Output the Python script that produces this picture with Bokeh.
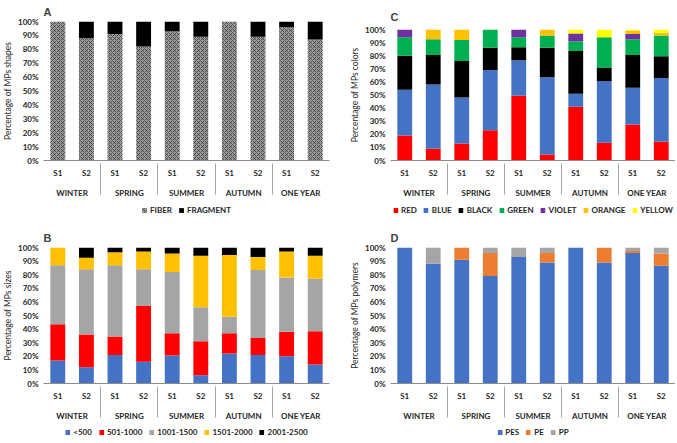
from bokeh.plotting import figure
from bokeh.layouts import column, row
from bokeh.models import (FactorRange, ColumnDataSource, Legend, LegendItem,
                          PrintfTickFormatter, SingleIntervalTicker)
from bokeh.embed import file_html
from bokeh.resources import INLINE

seasons = ["WINTER", "SPRING", "SUMMER", "AUTUMN", "ONE YEAR"]
sites = ["S1", "S2"]

# Panel A: shapes (%)
shape_labels = ["FIBER", "FRAGMENT"]
fiber = [100, 88, 91, 82, 93, 89, 100, 89, 96, 87]
fragment = [0, 12, 9, 18, 7, 11, 0, 11, 4, 13]

# Panel B: sizes (%)
size_labels = ["<500", "501-1000", "1001-1500", "1501-2000", "2001-2500"]
size_lt500 = [17, 12, 21, 16, 20.5, 6, 22, 21, 20, 14]
size_501_1000 = [26.5, 24, 13.5, 41, 16.5, 25, 15, 12.5, 18, 24.5]
size_1001_1500 = [43.5, 48, 52.5, 27, 45, 25, 12, 50, 40, 38.5]
size_1501_2000 = [13, 8.5, 9.5, 13, 13.5, 38, 45.5, 9.5, 19, 17]
size_2001_2500 = [0, 7.5, 3.5, 3, 4.5, 6, 5.5, 7, 3, 6]

# Panel C: colours (%)
color_labels = ["RED", "BLUE", "BLACK", "GREEN", "VIOLET", "ORANGE", "YELLOW"]
col_red = [19, 9, 13, 23, 49.5, 4.5, 41, 13.5, 27.5, 14.5]
col_blue = [35, 49, 35, 46, 27, 59, 10, 47, 28, 48.5]
col_black = [26, 22.5, 28, 17, 10, 22.5, 32.5, 10.5, 25, 16.5]
col_green = [14, 12, 16, 14, 7.5, 9.5, 7.5, 23, 12, 16]
col_violet = [6, 0, 0, 0, 6, 0, 6, 0, 4, 0]
col_orange = [0, 7.5, 8, 0, 0, 4.5, 0, 0, 2.5, 2]
col_yellow = [0, 0, 0, 0, 0, 0, 3, 6, 1, 2.5]

# Panel D: polymers (%)
poly_labels = ["PES", "PE", "PP"]
poly_pes = [100, 88, 91, 79, 93, 89, 100, 89, 96, 86.5]
poly_pe = [0, 0, 9, 17, 0, 7, 0, 11, 1.5, 9]
poly_pp = [0, 12, 0, 4, 7, 4, 0, 0, 2.5, 4.5]

FONT = "Lato"
TXT = "#262626"
factors = [(s, t) for s in seasons for t in sites]


def make_fig(letter, ylabel, width, height, borders, title_standoff):
    left, right, top, bottom = borders
    p = figure(x_range=FactorRange(factors=factors, range_padding=0, group_padding=0,
                                   subgroup_padding=0, factor_padding=0),
               y_range=(0, 100), width=width, height=height,
               output_backend="svg", toolbar_location=None,
               min_border_left=left, min_border_right=right,
               min_border_top=top, min_border_bottom=bottom)
    p.title.text = letter
    p.title.text_font = "Liberation Sans"
    p.title.text_font_style = "bold"
    p.title.text_font_size = "11px"
    p.title.standoff = title_standoff
    p.outline_line_color = None
    p.xgrid.grid_line_color = None
    p.ygrid.grid_line_color = None
    p.yaxis.ticker = SingleIntervalTicker(interval=10)
    p.yaxis.formatter = PrintfTickFormatter(format="%d%%")
    p.yaxis.axis_line_color = None
    p.yaxis.major_tick_line_color = None
    p.yaxis.minor_tick_line_color = None
    p.yaxis.major_tick_out = 0
    p.yaxis.minor_tick_out = 0
    p.yaxis.major_label_text_font = FONT
    p.yaxis.major_label_text_font_style = "bold"
    p.yaxis.major_label_text_font_size = "8px"
    p.yaxis.major_label_text_color = TXT
    p.yaxis.major_label_standoff = 5
    p.yaxis.axis_label = ylabel
    p.yaxis.axis_label_text_font = FONT
    p.yaxis.axis_label_text_font_style = "normal"
    p.yaxis.axis_label_text_font_size = "8.5px"
    p.yaxis.axis_label_text_color = TXT
    p.yaxis.axis_label_standoff = 2
    xa = p.xaxis[0]
    xa.axis_line_color = "#8c8c8c"
    xa.major_tick_line_color = None
    xa.major_tick_out = 0
    xa.major_tick_in = 0
    xa.major_label_text_font = FONT
    xa.major_label_text_font_style = "bold"
    xa.major_label_text_font_size = "8px"
    xa.major_label_text_color = TXT
    xa.major_label_standoff = 7
    xa.group_text_font = FONT
    xa.group_text_font_style = "bold"
    xa.group_text_font_size = "8px"
    xa.group_text_color = TXT
    xa.separator_line_color = "#a6a6a6"
    xa.separator_line_width = 1
    return p


def stack(p, cols, colors, visible=True, **extra):
    data = {"x": factors}
    keys = []
    for i, c in enumerate(cols):
        k = "c%d" % i
        data[k] = c
        keys.append(k)
    src = ColumnDataSource(data)
    return p.vbar_stack(keys, x="x", width=0.52, color=colors, line_color=None,
                        source=src, visible=visible, **extra)


def panel(letter, ylabel, cols, labels, colors, width, height, borders, title_standoff,
          leg_h, leg_left, **extra):
    p = make_fig(letter, ylabel, width, height, borders, title_standoff)
    stack(p, cols, colors, **extra)
    # legend strip underneath, sharing the same data and glyph styles
    lf = figure(x_range=p.x_range, y_range=p.y_range, width=width, height=leg_h,
                output_backend="svg", toolbar_location=None, title=None,
                x_axis_type=None, y_axis_type=None,
                min_border_left=leg_left, min_border_right=0,
                min_border_top=0, min_border_bottom=0)
    lf.grid.visible = False
    lf.outline_line_color = None
    rs = stack(lf, cols, colors, visible=False, **extra)
    leg = Legend(items=[LegendItem(label=l, renderers=[r]) for l, r in zip(labels, rs)],
                 orientation="horizontal", location="center")
    leg.border_line_color = None
    leg.background_fill_alpha = 0
    leg.label_text_font = FONT
    leg.label_text_font_style = "bold"
    leg.label_text_font_size = "8px"
    leg.label_text_color = TXT
    leg.glyph_width = 6
    leg.glyph_height = 6
    leg.label_standoff = 3
    leg.label_width = 0
    leg.spacing = 6
    leg.padding = 0
    leg.margin = 0
    leg.label_height = 8
    leg.inactive_fill_alpha = 0
    lf.add_layout(leg)
    return column(p, lf)


colA = panel("A", "Percentage of MPs shapes", [fiber, fragment], shape_labels,
             ["#9a9a9a", "#000000"], 338, 200, (37, 9, 20, 37), 7, 20, 0,
             hatch_pattern=["diagonal_cross", " "], hatch_color="#1a1a1a",
             hatch_scale=4, hatch_weight=1, hatch_alpha=0.55)
colC = panel("C", "Percentage of MPs colors",
             [col_red, col_blue, col_black, col_green, col_violet, col_orange, col_yellow],
             color_labels,
             ["#ff0000", "#4472c4", "#000000", "#00b050", "#7030a0", "#ffc000", "#ffff00"],
             337, 200, (52, 0, 29, 37), 14, 20, 17)
colB = panel("B", "Percentage of MPs sizes",
             [size_lt500, size_501_1000, size_1001_1500, size_1501_2000, size_2001_2500],
             size_labels, ["#4472c4", "#ff0000", "#a5a5a5", "#ffc000", "#000000"],
             338, 203, (38, 9, 27, 38), 7, 18, 0)
colD = panel("D", "Percentage of MPs polymers", [poly_pes, poly_pe, poly_pp], poly_labels,
             ["#4472c4", "#ed7d31", "#a5a5a5"], 337, 203, (52, 0, 27, 38), 7, 18, 17)

layout = column(row(colA, colC), row(colB, colD))
open("out.html", "w").write(file_html(layout, INLINE))
